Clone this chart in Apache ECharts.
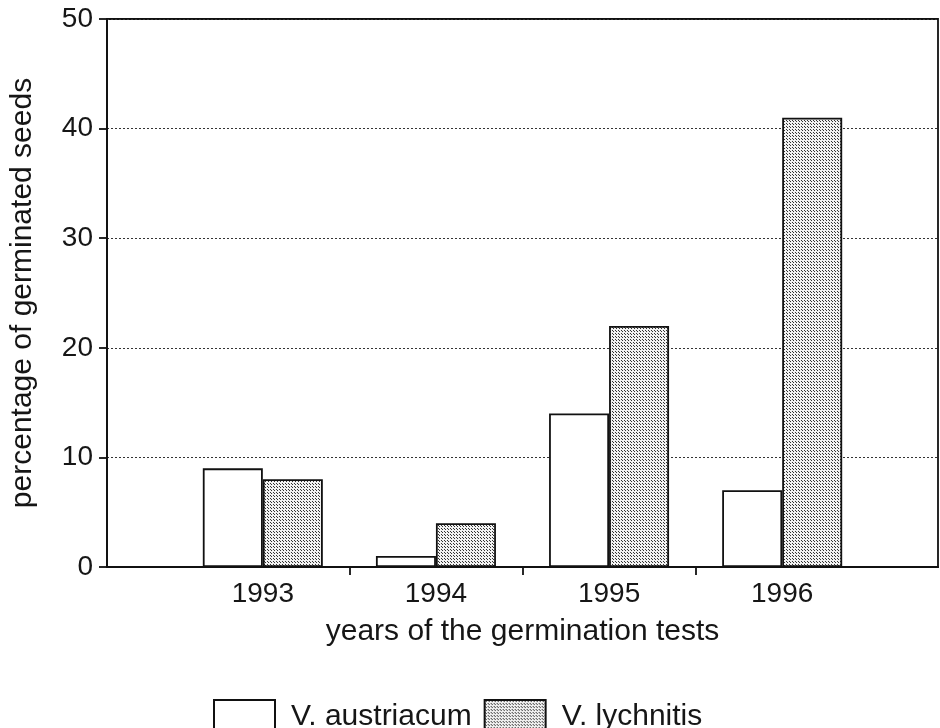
<!DOCTYPE html>
<html>
<head>
<meta charset="utf-8">
<script src="https://cdn.jsdelivr.net/npm/echarts@6/dist/echarts.min.js"></script>
<style>html,body{margin:0;padding:0;background:#fff}#c{width:940px;height:728px}</style>
</head>
<body>
<div id="c"></div>
<script>
const years = [1993, 1994, 1995, 1996];
const austriacum = [9, 1, 14, 7];
const lychnitis = [8, 4, 22, 41];
const seriesNames = ['V. austriacum', 'V. lychnitis'];
const yTicks = [0, 10, 20, 30, 40, 50];

function makePattern() {
  const c = document.createElement('canvas');
  c.width = 6; c.height = 6;
  const ctx = c.getContext('2d');
  ctx.fillStyle = '#f2f2f2';
  ctx.fillRect(0, 0, 6, 6);
  ctx.fillStyle = '#333';
  [[0,0],[1,1],[3,3],[4,4],[3,0],[4,1],[0,3],[1,4]].forEach(p => ctx.fillRect(p[0], p[1], 1, 1));
  return c;
}
const pattern = makePattern();

const chart = echarts.init(document.getElementById('c'));
const font = 'Liberation Sans, Arial, sans-serif';
const ink = '#161616';
chart.setOption({
  animation: false,
  backgroundColor: '#fff',
  textStyle: { fontFamily: font, color: ink },
  grid: { left: 105, right: 2, top: 19, bottom: 161, show: true, borderColor: '#111', borderWidth: 1.8 },
  legend: {
    data: seriesNames,
    left: 208, top: 694,
    itemWidth: 61, itemHeight: 33, itemGap: 12,
    textStyle: { fontSize: 30, color: ink, fontFamily: font, padding: [0, 0, 0, 11] },
    icon: 'rect'
  },
  xAxis: {
    type: 'value', min: 1992.1, max: 1996.9,
    name: 'years of the germination tests', nameLocation: 'middle', nameGap: 50,
    nameTextStyle: { fontSize: 30, color: ink, fontFamily: font },
    axisLine: { show: true, lineStyle: { color: '#111', width: 1.8 } },
    axisTick: { show: true, length: 8, customValues: [1993.5, 1994.5, 1995.5], lineStyle: { color: '#111', width: 1.8 } },
    axisLabel: { customValues: years, formatter: v => String(v), fontSize: 28, color: ink, margin: 13 },
    splitLine: { show: false }
  },
  yAxis: {
    type: 'value', min: 0, max: 50, interval: 10,
    name: 'percentage of germinated seeds', nameLocation: 'middle', nameGap: 69,
    nameTextStyle: { fontSize: 30, color: ink, fontFamily: font },
    axisLine: { show: true, lineStyle: { color: '#111', width: 1.8 } },
    axisTick: { show: true, length: 8, lineStyle: { color: '#111', width: 1.8 } },
    axisLabel: { fontSize: 28, color: ink, margin: 14, formatter: v => yTicks.includes(v) ? String(v) : '' },
    splitLine: { show: true, lineStyle: { color: '#333', type: [2, 2], width: 1 } }
  },
  series: [
    {
      name: seriesNames[0], type: 'bar', barWidth: 60, barGap: '0%',
      data: years.map((y, i) => [y, austriacum[i]]),
      itemStyle: { color: '#fff', borderColor: '#111', borderWidth: 1.8 }
    },
    {
      name: seriesNames[1], type: 'bar', barWidth: 60, barGap: '0%',
      data: years.map((y, i) => [y, lychnitis[i]]),
      itemStyle: { color: { image: pattern, repeat: 'repeat' }, borderColor: '#111', borderWidth: 1.8 }
    }
  ]
});
</script>
</body>
</html>
